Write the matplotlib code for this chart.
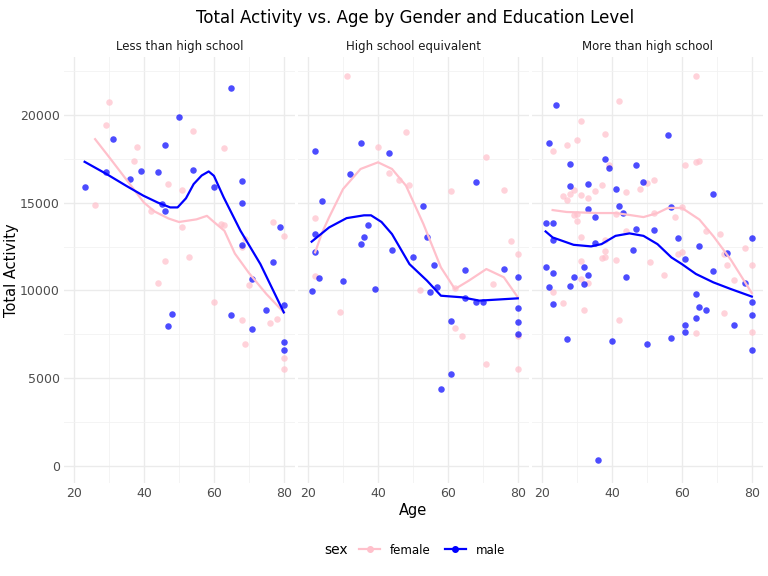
import numpy as np
import matplotlib.pyplot as plt
from matplotlib.lines import Line2D
from matplotlib.offsetbox import HPacker

PANELS = ["Less than high school", "High school equivalent", "More than high school"]

# ── points: (age, total activity) ───────────────────────────────
f1_age = [30, 29, 38, 37, 54, 63, 47, 51, 26, 42, 51, 62, 63, 69, 68, 46, 53, 44, 60, 70, 77, 80, 68, 69, 76, 78, 80, 80]
f1_val = [20730, 19420, 18170, 17370, 19080, 18110, 16060, 15720, 14860, 14520, 13610, 13780, 13720, 12930, 12450,
          11670, 11900, 10420, 9340, 10310, 13900, 13100, 8310, 6950, 8140, 8370, 6150, 5520]
m1_age = [23, 31, 29, 36, 39, 44, 46, 50, 54, 60, 65, 68, 68, 45, 46, 68, 77, 79, 71, 80, 75, 65, 48, 47, 71, 80, 80]
m1_val = [15890, 18620, 16740, 16340, 16800, 16740, 18280, 19870, 16860, 15890, 21530, 16230, 14980, 14920, 14520,
          12590, 11620, 13610, 10650, 9170, 8880, 8600, 8660, 7970, 7800, 7060, 6610]

f2_age = [31, 48, 40, 43, 46, 49, 61, 71, 76, 22, 22, 29, 52, 62, 64, 78, 80, 73, 71, 80, 80, 62]
f2_val = [22210, 19020, 18170, 16690, 16290, 16010, 15660, 17600, 15720, 14120, 10820, 8770, 10020, 7860, 7400,
          12810, 12070, 10370, 5810, 5520, 7400, 10140]
m2_age = [22, 35, 43, 32, 24, 22, 22, 23, 21, 30, 35, 36, 37, 39, 44, 53, 54, 50, 56, 55, 57, 65, 68, 65, 68, 70,
          76, 80, 80, 80, 80, 61, 61, 58]
m2_val = [17940, 18400, 17830, 16630, 15090, 13210, 12190, 10710, 9970, 10540, 12650, 13040, 13720, 10080, 12300,
          14810, 13040, 11900, 11450, 9910, 10190, 11160, 16180, 9570, 9340, 9340, 11220, 10760, 9000, 8200, 7520,
          8260, 5240, 4390]

f3_age = [64, 42, 31, 38, 30, 27, 23, 39, 61, 64, 65, 50, 52, 48, 44, 37, 35, 31, 33, 29, 28, 26, 27, 29, 30, 30,
          41, 52, 58, 60, 67, 71, 72, 73, 78, 80, 75, 31, 38, 38, 37, 38, 41, 44, 51, 55, 59, 60, 31, 31, 33, 23,
          26, 32, 42, 72, 64, 80]
f3_val = [22210, 20790, 19650, 18910, 18570, 18280, 17940, 17140, 17140, 17310, 17370, 16120, 16290, 15780, 15610,
          16010, 15660, 15430, 15260, 15720, 15490, 15380, 15150, 14300, 14360, 13960, 14360, 14410, 14180, 14750,
          13380, 13210, 12070, 11450, 12410, 11450, 10590, 13040, 12870, 12240, 11850, 11900, 11730, 13380, 11620,
          10880, 12070, 12190, 11670, 10650, 10420, 9910, 9280, 8880, 8310, 8710, 7570, 7630]
m3_age = [24, 22, 56, 28, 38, 39, 47, 49, 33, 28, 41, 42, 43, 33, 35, 57, 69, 21, 23, 23, 35, 47, 52, 59, 65, 46,
          61, 73, 80, 21, 23, 32, 33, 29, 32, 28, 22, 23, 44, 69, 78, 64, 65, 67, 64, 61, 61, 75, 80, 80, 80, 27,
          40, 50, 57, 36]
m3_val = [20560, 18400, 18850, 17200, 17480, 16970, 17140, 16180, 16060, 15950, 15780, 14810, 14410, 14640, 14190,
          14750, 15490, 13830, 13830, 12870, 12700, 13490, 13440, 12980, 12530, 12300, 11790, 12130, 12980, 11330,
          10990, 11330, 10880, 10760, 10370, 10250, 10190, 9220, 10760, 11100, 10420, 9800, 9060, 8880, 8430, 8030,
          7630, 8030, 9340, 8600, 6610, 7230, 7120, 6950, 7290, 340]

# ── loess curves ────────────────────────────────────────────────
fs1_age = [26, 30, 35, 40, 43, 47, 50, 55, 58, 60, 63, 66, 70, 75, 80]
fs1_val = [18620, 17600, 16300, 15000, 14500, 14100, 13900, 14050, 14250, 13900, 13400, 12100, 11000, 9800, 8750]
ms1_age = [23, 29.3, 35, 39.8, 44, 47.5, 49.6, 52, 54.2, 56.5, 58.5, 60, 62.8, 67.6, 73.3, 80]
ms1_val = [17330, 16630, 15950, 15400, 15000, 14730, 14730, 15250, 16060, 16550, 16780, 16530, 15300, 13400, 11500, 8750]

fs2_age = [22, 24, 26, 30, 35, 40, 44, 48, 53, 58, 62, 66, 71, 76, 80]
fs2_val = [12170, 13300, 14170, 15780, 16920, 17300, 16920, 15970, 13780, 11310, 10080, 10560, 11220, 10750, 9610]
ms2_age = [21, 26, 31, 36, 38, 41, 44, 49, 54, 58, 64, 69, 80]
ms2_val = [12780, 13590, 14120, 14280, 14280, 13900, 13210, 11500, 10560, 9700, 9610, 9420, 9550]

fs3_age = [23, 27, 36, 41, 45, 49, 53, 56, 60, 65, 69, 74, 80]
fs3_val = [14580, 14470, 14410, 14410, 14300, 14180, 14410, 14700, 14700, 14040, 13090, 11750, 9850]
ms3_age = [21, 23, 29, 34, 37, 41, 45, 49, 53, 57, 60, 64, 69, 74, 80]
ms3_val = [13360, 13020, 12600, 12510, 12640, 13110, 13250, 13110, 12640, 11880, 11500, 10940, 10460, 10080, 9650]

female = [(f1_age, f1_val, fs1_age, fs1_val), (f2_age, f2_val, fs2_age, fs2_val), (f3_age, f3_val, fs3_age, fs3_val)]
male = [(m1_age, m1_val, ms1_age, ms1_val), (m2_age, m2_val, ms2_age, ms2_val), (m3_age, m3_val, ms3_age, ms3_val)]

PINK = "#FFC0CB"
BLUE = "#0000FF"
W, H = 768, 576

fig = plt.figure(figsize=(W / 100, H / 100), dpi=100)
fig.patch.set_facecolor("white")

lefts = [64, 298, 532]
pw, top, bot = 231, 57, 483
axes = []
for i, name in enumerate(PANELS):
    ax = fig.add_axes([lefts[i] / W, 1 - bot / H, pw / W, (bot - top) / H])
    axes.append(ax)
    fa, fv, fsa, fsv = female[i]
    ma, mv, msa, msv = male[i]
    ax.scatter(fa, fv, s=22, color=PINK, alpha=0.7, linewidths=0, zorder=3)
    ax.scatter(ma, mv, s=22, color=BLUE, alpha=0.7, linewidths=0, zorder=3)
    ax.plot(fsa, fsv, color=PINK, lw=1.6, zorder=4)
    ax.plot(msa, msv, color=BLUE, lw=1.6, zorder=4)
    ax.set_xlim(17.1, 83.2)
    ax.set_ylim(-970, 23300)
    ax.set_xticks([20, 40, 60, 80])
    ax.set_xticks([30, 50, 70], minor=True)
    ax.set_yticks([0, 5000, 10000, 15000, 20000])
    ax.set_yticks([2500, 7500, 12500, 17500, 22500], minor=True)
    ax.grid(which="major", color="#EBEBEB", lw=1.0)
    ax.grid(which="minor", color="#F2F2F2", lw=0.6)
    ax.set_axisbelow(True)
    for sp in ax.spines.values():
        sp.set_visible(False)
    ax.tick_params(which="both", length=0, labelsize=9, colors="#4D4D4D", pad=3)
    ax.set_title(name, fontsize=8.5, color="#1A1A1A", pad=5)
    if i > 0:
        ax.set_yticklabels([])

axes[0].set_ylabel("Total Activity", fontsize=10.5, color="black")
axes[0].yaxis.set_label_coords(-45 / pw, 0.5)
axes[1].set_xlabel("Age", fontsize=10.5, color="black", labelpad=2)
fig.suptitle("Total Activity vs. Age by Gender and Education Level", fontsize=12, y=0.985, x=0.54)

handles = [Line2D([], [], color=PINK, marker="o", markersize=4, lw=1.6),
           Line2D([], [], color=BLUE, marker="o", markersize=4, lw=1.6)]
leg = fig.legend(handles, ["female", "male"], loc="center", bbox_to_anchor=(0.54, 1 - 550 / H),
                 ncol=2, frameon=False, fontsize=8.5, title="sex", title_fontsize=10,
                 handlelength=1.8, columnspacing=1.2)
box = leg._legend_box
box._children = [HPacker(pad=0, sep=8, children=list(box.get_children()), align="center")]

fig.savefig("out.png", dpi=100, facecolor="white")
